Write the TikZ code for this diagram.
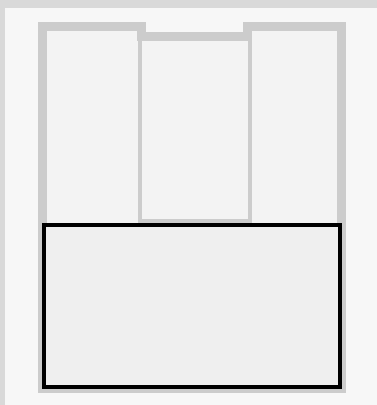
\documentclass[tikz,border=0pt]{standalone}
\usepackage{xcolor}
\usepackage{tikz}
\definecolor{pageback}{HTML}{D9D9D9}
\definecolor{panelback}{HTML}{F7F7F7}
\definecolor{wallgrey}{HTML}{CCCCCC}
\definecolor{roomfill}{HTML}{F3F3F3}
\definecolor{basefill}{HTML}{EFEFEF}
\tikzset{
  wall/.style={draw=wallgrey, line width=6.75pt, line join=miter},
  partition/.style={draw=wallgrey, line width=3pt, fill=roomfill},
  basebox/.style={draw=black, line width=3pt, fill=basefill}
}

\begin{document}
\begin{tikzpicture}[x=0.75pt, y=-0.75pt]
  % background and panel
  \fill[pageback] (0,0) rectangle (377,405);
  \fill[panelback] (5,8) rectangle (377,405);
  \useasboundingbox (0,0) rectangle (377,405);
  % outer wall with notch at the top
  \coordinate (tl) at (42.5,26.5);
  \coordinate (nl) at (141.5,26.5);
  \coordinate (nr) at (248,26.5);
  \coordinate (tr) at (341.5,26.5);
  \coordinate (br) at (341.5,388.5);
  \coordinate (bl) at (42.5,388.5);
  \fill[roomfill] (tl) -- (nl) -- (141.5,36.5) -- (248,36.5) -- (nr) -- (tr) -- (br) -- (bl) -- cycle;
  % middle column
  \draw[partition] (140,36.5) rectangle (250,221);
  \draw[wall] (tl) -- (nl) -- (141.5,36.5) -- (248,36.5) -- (nr) -- (tr) -- (br) -- (bl) -- cycle;
  % lower block
  \draw[basebox] (44.5,224.7) rectangle (339.7,387.3);
\end{tikzpicture}
\end{document}
